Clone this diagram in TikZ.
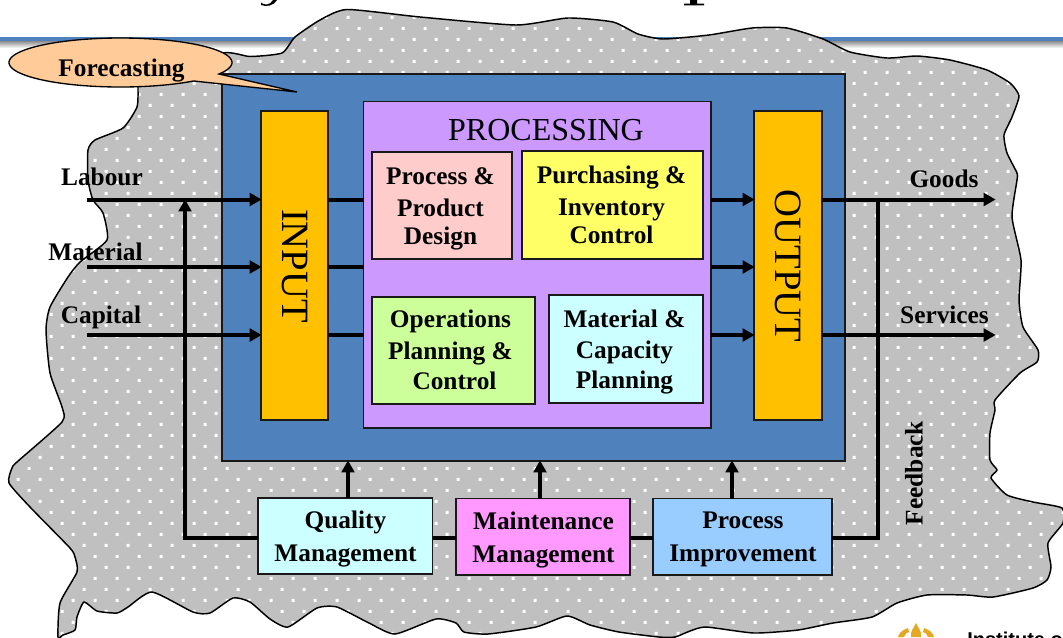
\documentclass[tikz,border=0pt]{standalone}
\usepackage{fontspec}
\setmainfont{Liberation Serif}
\newfontfamily\instfont{Liberation Sans}
\usetikzlibrary{arrows.meta}
\definecolor{hdrblue}{HTML}{4F81BD}
\definecolor{cloudgrey}{HTML}{C0C0C0}
\definecolor{ambergold}{HTML}{FFC000}
\definecolor{procviolet}{HTML}{CC99FF}
\definecolor{pinkbox}{HTML}{FFCCCC}
\definecolor{yellowbox}{HTML}{FFFF66}
\definecolor{greenbox}{HTML}{CCFF99}
\definecolor{cyanbox}{HTML}{CCFFFF}
\definecolor{magentabox}{HTML}{FF99FF}
\definecolor{skybox}{HTML}{99CCFF}
\definecolor{peach}{HTML}{FFCC99}
\definecolor{logogold}{HTML}{E5A823}
\tikzset{
  frame/.style={draw=black!90,line width=1.2pt,rectangle,inner sep=0pt,outer sep=0pt,anchor=north west},
  lbl/.style={font=\fontsize{19}{24}\selectfont\bfseries,inner sep=0pt,align=center,text=black},
  biglbl/.style={font=\fontsize{29}{32}\selectfont,inner sep=0pt,text=black},
  flow/.style={line width=3pt,draw=black},
  flowarrow/.style={flow,-{Triangle[length=9pt,width=9.5pt]},shorten >=-0.5pt},
}
\newcommand{\boxat}[6][]{\node[frame,fill=#2,minimum width=#5*0.75pt,minimum height=#6*0.75pt,#1] (#3) at #4 {};}
\begin{document}
\begin{tikzpicture}[x=0.75pt,y=-0.75pt]
\useasboundingbox (0,0) rectangle (1063,637);
\fill[white] (0,0) rectangle (1063,637);
% cut title descenders
\fill[black] (261,2.5) .. controls (264,5.5) and (270,5.5) .. (273,0) -- (277,0) .. controls (274,6) and (266,7) .. (261,5) -- cycle;
\fill[black] (690,0) rectangle (697,4) (684,3.6) rectangle (704,5.4);
% header rule with its shadow
\shade[top color=black!45,bottom color=white] (0,41) rectangle (1063,48);
\fill[hdrblue] (0,37.3) rectangle (1063,41);
% cloud
\def\cloudpath{plot[smooth cycle,tension=0.35] coordinates {
(222,53)(250,56.5)(282,53)(295,37)(320,20)(347,9.5)(420,17)(516,25)(568,18)(613,22)(638,34)(663,39)(709,35)(752,28)(787,28)(823,39)(850,52)(887,58)(917,56)(950,60)(987,70)(1010,83)(1019,96)(1012,117)(1004,135)(1007,153)(1017,173)(1017,180)(1012,217)(1021,260)(1019,300)(1023,327)(1038,350)(1037,362)(1020,373)(995,400)(995,410)(990,433)(990,460)(997,470)(991,478)(1007,495)(1033,502)(1062,508)(1063,523)(1048,543)(1051,567)(1047,580)(1033,588)(993,597)(967,595)(927,595)(897,603)(872,617)(833,623)(798,630)(754,633)(706,627)(690,631)(675,637)(659,637)(619,632)(590,625)(567,616)(536,627)(488,634)(464,632)(456,623)(436,619)(395,634)(369,623)(337,607)(317,608)(288,627)(270,619)(250,602)(233,598)(210,613)(193,612)(152,592)(128,607)(117,613)(97,611)(84,602)(77,617)(75,630)(63,635)(58,637)(60,603)(77,572)(75,557)(70,548)(30,507)(9,483)(12,468)(17,462)(62,422)(62,407)(50,373)(46,330)(50,307)(68,277)(80,262)(107,240)(103,213)(93,200)(88,180)(88,150)(95,140)(123,128)(137,107)(138,87)(138,75)}}
\fill[cloudgrey] \cloudpath;
\begin{scope}
  \clip \cloudpath;
  \fill[white] \foreach \j in {0,...,28}{\foreach \i in {0,...,48}{
     (5.5+22*\i,4.8+22*\j) rectangle ++(3,3)
     (16.5+22*\i,15.8+22*\j) rectangle ++(3,3)}};
\end{scope}
\draw[black,line width=1.1pt] \cloudpath;
% main boxes
\boxat{hdrblue}{plant}{(222,74)}{623}{387}
\boxat{ambergold}{input}{(261,111)}{67}{309}
\boxat{procviolet}{proc}{(363.5,101.5)}{347.5}{326.5}
\boxat{ambergold}{output}{(754,111)}{68}{309}
\boxat{pinkbox}{ppd}{(372,152)}{140}{107}
\boxat{yellowbox}{pic}{(522,151)}{181}{108}
\boxat{greenbox}{opc}{(372,297)}{163}{107}
\boxat{cyanbox}{mcp}{(549,295)}{154}{108}
\boxat{cyanbox}{qm}{(258,498)}{174.5}{76}
\boxat{magentabox}{mm}{(456,498.5)}{174}{76.5}
\boxat{skybox}{pi}{(653,498.5)}{179}{76.5}
% anchors of the flows
\coordinate (labourin) at (87,199.5);
\coordinate (materialin) at (87,267);
\coordinate (capitalin) at (87,335);
\coordinate (goodsout) at (995,199.5);
\coordinate (servicesout) at (995,335);
\coordinate (fbtop) at (878,199.5);
\coordinate (fbcorner) at (878,538);
\coordinate (inbottom) at (185,538);
\coordinate (intop) at (185,200);
% connectors
\draw[flowarrow] (labourin) -- (labourin -| input.west);
\draw[flowarrow] (materialin) -- (materialin -| input.west);
\draw[flowarrow] (capitalin) -- (capitalin -| input.west);
\draw[flow] (labourin -| input.east) -- (labourin -| proc.west);
\draw[flow] (materialin -| input.east) -- (materialin -| proc.west);
\draw[flow] (capitalin -| input.east) -- (capitalin -| proc.west);
\draw[flowarrow] (labourin -| proc.east) -- (labourin -| output.west);
\draw[flowarrow] (materialin -| proc.east) -- (materialin -| output.west);
\draw[flowarrow] (capitalin -| proc.east) -- (capitalin -| output.west);
\draw[flowarrow] (goodsout -| output.east) -- (goodsout);
\draw[flowarrow] (servicesout -| output.east) -- (servicesout);
\draw[flow] (fbtop) -- (fbcorner) -- (fbcorner -| pi.east);
\draw[flow] (pi.west |- fbcorner) -- (mm.east |- fbcorner);
\draw[flow] (mm.west |- fbcorner) -- (qm.east |- fbcorner);
\draw[flowarrow] (qm.west |- fbcorner) -- (inbottom) -- (intop);
\draw[flowarrow] (348,498) -- (348,461);
\draw[flowarrow] (540,498.5) -- (540,461);
\draw[flowarrow] (732,498.5) -- (732,461);
% box texts
\node[biglbl,rotate=-90] (inputlbl) at (295,266) {INPUT};
\node[biglbl,rotate=-90] (outputlbl) at (788.5,266) {OUTPUT};
\node[font=\fontsize{24}{28}\selectfont,inner sep=0pt,anchor=base,text=black] (proclbl) at (546,140) {PROCESSING};
\node[lbl] (ppdt) at (440.5,208.5) {Process \&\\Product\\[-3pt]Design};
\node[lbl] (pict) at (611.5,205) {Purchasing \&\\Inventory\\[-3pt]Control};
\node[lbl] (opct) at (450.5,349.5) {Operations\\Planning \&\\[-1.5pt]\hspace*{6pt}Control};
\node[lbl] (mcpt) at (624.5,351.5) {Material \&\\[-0.75pt]Capacity\\[-1.5pt]Planning};
\node[lbl] (qmt) at (345.5,538.5) {Quality\\[0.75pt]Management};
\node[lbl] (mmt) at (543.5,539.5) {Maintenance\\[0.75pt]Management};
\node[lbl] (pit) at (743,539.5) {Process\\[0.75pt]Improvement};
% free labels
\node[lbl,anchor=base] (labour) at (102,185) {Labour};
\node[lbl,anchor=base] (material) at (95.5,260) {Material};
\node[lbl,anchor=base] (capital) at (101,323) {Capital};
\node[lbl,anchor=base] (goods) at (944,187) {Goods};
\node[lbl,anchor=base] (services) at (944.5,323) {Services};
\node[lbl,rotate=90] (feedback) at (914,473) {Feedback};
% callout
\draw[black,line width=1pt,fill=peach,line join=miter]
  plot[domain=-28:311,samples=120,smooth] ({120.5+111.5*cos(\x)},{62.5-24.5*sin(\x)})
  -- (297,92) -- cycle;
\node[lbl,anchor=base] (forecast) at (121.5,76.7) {Forecasting};
% cut logo and caption at the foot
\begin{scope}
  \clip (0,0) rectangle (1063,637);
  \fill[logogold] (916,623) .. controls (918,628) and (922,631) .. (921,637) -- (911,637) .. controls (910,631) and (914,628) .. (916,623) -- cycle;
  \fill[logogold] (908,628) .. controls (902,630) and (899,633) .. (898,637) -- (904,637) .. controls (905,634) and (907,632) .. (909,632) -- cycle;
  \fill[logogold] (924,628) .. controls (930,630) and (933,633) .. (934,637) -- (928,637) .. controls (927,634) and (925,632) .. (923,632) -- cycle;
  \node[inner sep=0pt,anchor=base west,font=\instfont\fontsize{15}{18}\selectfont\bfseries] (institute) at (967,646) {Institute of};
\end{scope}
\end{tikzpicture}
\end{document}
